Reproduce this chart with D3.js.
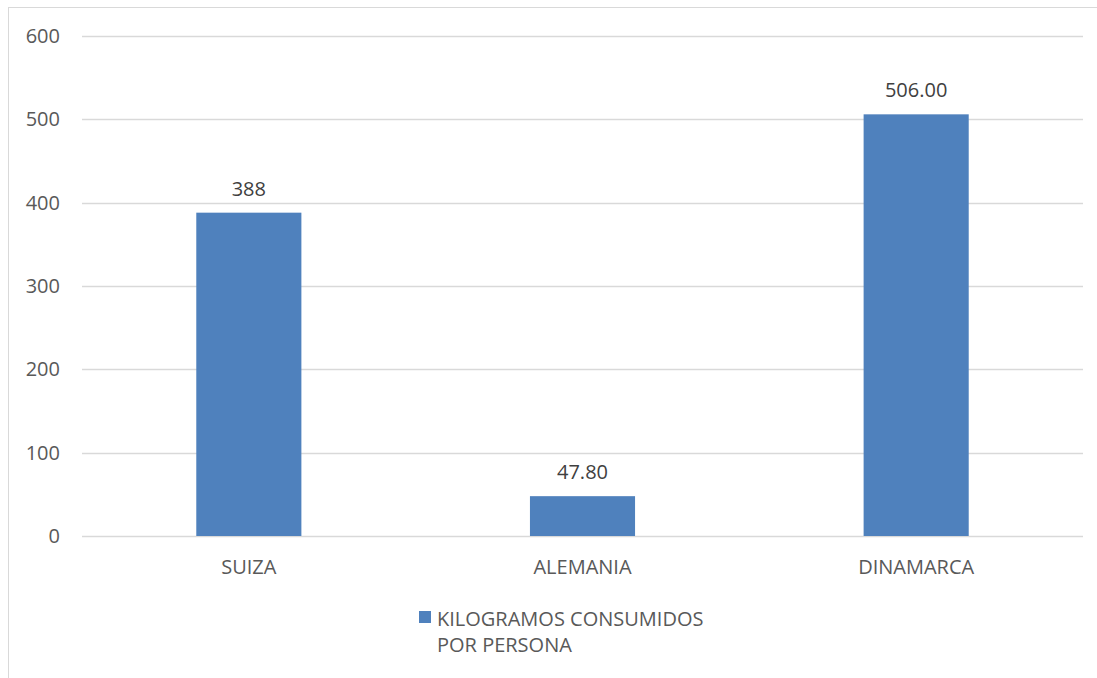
<!DOCTYPE html>
<html><head><meta charset="utf-8">
<script src="https://cdn.jsdelivr.net/npm/d3@7"></script>
<style>
html,body{margin:0;padding:0;background:#fff;}
text{font-family:"Open Sans",sans-serif;}
</style></head>
<body><svg id="c" width="1097" height="678"></svg>
<script>
const categories = ["SUIZA","ALEMANIA","DINAMARCA"];
const values = [388, 47.8, 506];
const valueLabels = ["388","47.80","506.00"];
const yTicks = [0,100,200,300,400,500,600];
const seriesName = ["KILOGRAMOS CONSUMIDOS","POR PERSONA"];

(function(){
const FS = 20;
const svg = d3.select("#c");
svg.append("rect").attr("x",8.5).attr("y",7.5).attr("width",1200).attr("height",800)
  .attr("fill","none").attr("stroke","#d9d9d9").attr("stroke-width",1);

const pL=82, pR=1083, pT=36, pB=536;
const x = d3.scaleBand().domain(categories).range([pL,pR]).paddingInner(0.685).paddingOuter(0.3425);
const y = d3.scaleLinear().domain([0,600]).range([pB,pT]);

const grid = svg.append("g");
grid.selectAll("line").data(yTicks).join("line")
  .attr("x1",pL).attr("x2",pR)
  .attr("y1",d=>Math.round(y(d))+0.5).attr("y2",d=>Math.round(y(d))+0.5)
  .attr("stroke","#d9d9d9").attr("stroke-width",1.3);

const yAxis = d3.axisLeft(y).tickValues(yTicks).tickSize(0).tickPadding(0);
const ya = svg.append("g").attr("transform",`translate(${pL-22},0)`).call(yAxis);
ya.select(".domain").remove();
ya.selectAll("text").attr("font-size",FS).attr("fill","#595959").attr("font-family","Open Sans, sans-serif");

svg.append("g").selectAll("rect").data(values).join("rect")
  .attr("x",(d,i)=>x(categories[i])).attr("width",x.bandwidth())
  .attr("y",d=>y(d)).attr("height",d=>y(0)-y(d)).attr("fill","#4f81bd");

svg.append("g").selectAll("text").data(values).join("text")
  .attr("x",(d,i)=>x(categories[i])+x.bandwidth()/2).attr("y",d=>y(d)-17)
  .attr("text-anchor","middle").attr("font-size",FS).attr("fill","#404040")
  .text((d,i)=>valueLabels[i]);

const xAxis = d3.axisBottom(x).tickSize(0).tickPadding(0);
const xa = svg.append("g").attr("transform",`translate(0,${pB+24})`).call(xAxis);
xa.select(".domain").remove();
xa.selectAll("text").attr("font-size",FS).attr("fill","#595959").attr("font-family","Open Sans, sans-serif");

const lg = svg.append("g");
lg.append("rect").attr("x",419).attr("y",611).attr("width",12).attr("height",12).attr("fill","#4f81bd");
lg.selectAll("text").data(seriesName).join("text")
  .attr("x",437).attr("y",(d,i)=>626+i*26).attr("font-size",FS).attr("fill","#595959").text(d=>d);
})();
</script></body></html>
